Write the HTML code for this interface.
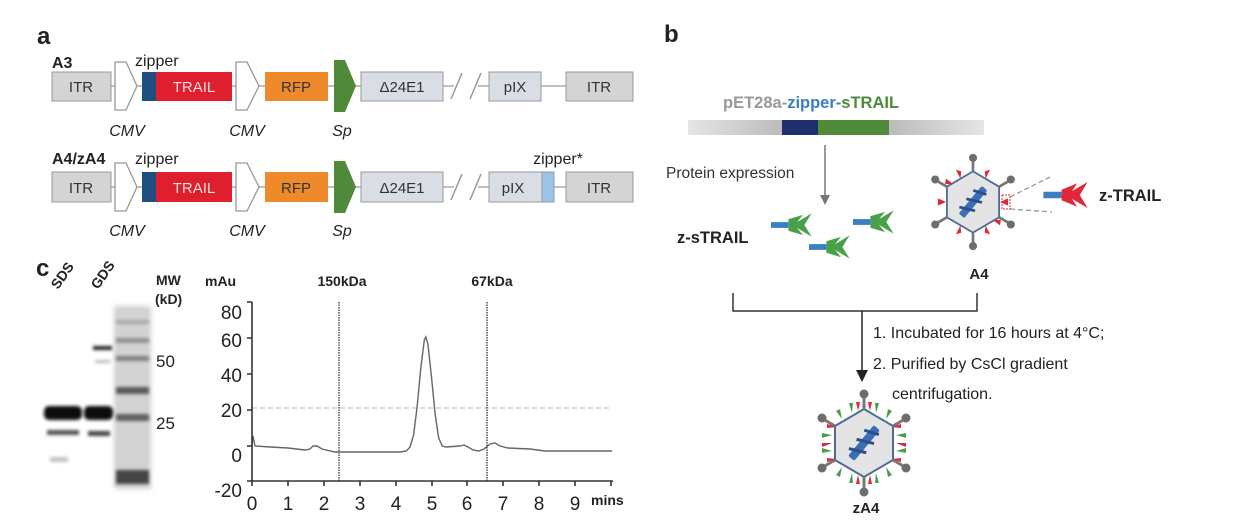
<!DOCTYPE html>
<html><head><meta charset="utf-8"><style>
html,body{margin:0;padding:0;background:#fff;}
svg{display:block;font-family:"Liberation Sans",Arial,sans-serif;}
</style></head><body>
<svg width="1244" height="530" viewBox="0 0 1244 530" xmlns="http://www.w3.org/2000/svg">
<defs>
<filter id="bl" x="-20%" y="-50%" width="140%" height="200%"><feGaussianBlur stdDeviation="1.6"/></filter>
<filter id="bl2" x="-20%" y="-20%" width="140%" height="140%"><feGaussianBlur stdDeviation="2.5"/></filter>
<linearGradient id="bar" x1="0" x2="1"><stop offset="0" stop-color="#e6e6e6"/><stop offset="0.3" stop-color="#bdbdbd"/><stop offset="0.7" stop-color="#bdbdbd"/><stop offset="1" stop-color="#e6e6e6"/></linearGradient>
<g id="fanG"><rect x="-20" y="-2" width="12" height="4" fill="#3a7fc4"/><path d="M-8,-4 L2,-7 L-2,-2 L8,-8 L3,0 L8,8 L-2,2 L2,7 L-8,4 Z" fill="#4aa04a"/></g>
<g id="fanR"><rect x="-22" y="-2.5" width="14" height="5" fill="#3a7fc4"/><path d="M-8,-4 L4,-9 L0,-3 L12,-10 L6,0 L12,10 L0,3 L4,9 L-8,4 Z" fill="#e0283a"/></g>
<g id="core">
<polygon points="0,-34 29,-17 29,17 0,34 -29,17 -29,-17" fill="#e4e4e4" stroke="#4b6d97" stroke-width="2"/>
<g stroke="#777" stroke-width="3">
<line x1="0" y1="-34" x2="0" y2="-48"/><line x1="29" y1="-17" x2="41" y2="-24"/><line x1="29" y1="17" x2="41" y2="24"/>
<line x1="0" y1="34" x2="0" y2="48"/><line x1="-29" y1="17" x2="-41" y2="24"/><line x1="-29" y1="-17" x2="-41" y2="-24"/>
</g>
<g fill="#6d6d6d"><circle cx="0" cy="-49" r="4.5"/><circle cx="42" cy="-25" r="4.5"/><circle cx="42" cy="25" r="4.5"/><circle cx="0" cy="49" r="4.5"/><circle cx="-42" cy="25" r="4.5"/><circle cx="-42" cy="-25" r="4.5"/></g>
<g transform="rotate(-50)" fill="#3a6fb5"><rect x="-20" y="-4" width="40" height="8" rx="2"/><path d="M-14,-8 L-6,8 M-2,-8 L6,8 M10,-8 L16,6" stroke="#2a4f8a" stroke-width="3"/></g>
</g>
</defs>
<rect width="1244" height="530" fill="#fff"/>

<!-- Panel a -->
<text x="37" y="44" font-size="24" font-weight="bold" fill="#222">a</text>
<line x1="52" y1="86" x2="633" y2="86" stroke="#aaa" stroke-width="1.5"/>
<line x1="52" y1="187" x2="633" y2="187" stroke="#aaa" stroke-width="1.5"/>
<rect x="443" y="60" width="46" height="50" fill="#fff"/>
<rect x="443" y="160" width="46" height="50" fill="#fff"/>
<g stroke="#999" stroke-width="1.5"><line x1="451" y1="99" x2="462" y2="73"/><line x1="470" y1="99" x2="481" y2="73"/>
<line x1="451" y1="200" x2="462" y2="174"/><line x1="470" y1="200" x2="481" y2="174"/></g>
<line x1="443" y1="86" x2="454" y2="86" stroke="#aaa" stroke-width="1.5"/><line x1="478" y1="86" x2="489" y2="86" stroke="#aaa" stroke-width="1.5"/>
<line x1="443" y1="187" x2="454" y2="187" stroke="#aaa" stroke-width="1.5"/><line x1="478" y1="187" x2="489" y2="187" stroke="#aaa" stroke-width="1.5"/>

<g font-size="15" text-anchor="middle">
<rect x="52" y="72" width="59" height="29" fill="#d4d4d4" stroke="#999"/><text x="81" y="92" fill="#333">ITR</text>
<polygon points="115,62 126,62 137,86 126,110 115,110 115,62" fill="#fff" stroke="#999" stroke-width="1.3"/>
<rect x="142" y="72" width="14" height="29" fill="#1f4e80"/>
<rect x="156" y="72" width="76" height="29" fill="#e01f2e"/><text x="194" y="92" fill="#fdd">TRAIL</text>
<polygon points="236,62 247,62 259,86 247,110 236,110" fill="#fff" stroke="#999" stroke-width="1.3"/>
<rect x="265" y="72" width="63" height="29" fill="#ef8a2a"/><text x="296" y="92" fill="#333">RFP</text>
<polygon points="334,60 345,60 356,86 345,112 334,112" fill="#4f8a3a"/>
<rect x="361" y="72" width="82" height="29" fill="#d8dde6" stroke="#999"/><text x="402" y="92" fill="#333">Δ24E1</text>
<rect x="489" y="72" width="52" height="29" fill="#d8dde6" stroke="#999"/><text x="515" y="92" fill="#333">pIX</text>
<rect x="566" y="72" width="67" height="29" fill="#d4d4d4" stroke="#999"/><text x="599" y="92" fill="#333">ITR</text>
<rect x="52" y="172" width="59" height="30" fill="#d4d4d4" stroke="#999"/><text x="81" y="193" fill="#333">ITR</text>
<polygon points="115,163 126,163 137,187 126,211 115,211" fill="#fff" stroke="#999" stroke-width="1.3"/>
<rect x="142" y="172" width="14" height="30" fill="#1f4e80"/>
<rect x="156" y="172" width="76" height="30" fill="#e01f2e"/><text x="194" y="193" fill="#fdd">TRAIL</text>
<polygon points="236,163 247,163 259,187 247,211 236,211" fill="#fff" stroke="#999" stroke-width="1.3"/>
<rect x="265" y="172" width="63" height="30" fill="#ef8a2a"/><text x="296" y="193" fill="#333">RFP</text>
<polygon points="334,161 345,161 356,187 345,213 334,213" fill="#4f8a3a"/>
<rect x="361" y="172" width="82" height="30" fill="#d8dde6" stroke="#999"/><text x="402" y="193" fill="#333">Δ24E1</text>
<rect x="489" y="172" width="53" height="30" fill="#d8dde6" stroke="#999"/><text x="513" y="193" fill="#333">pIX</text>
<rect x="542" y="172" width="12" height="30" fill="#9cc4ea" stroke="#999"/>
<rect x="566" y="172" width="67" height="30" fill="#d4d4d4" stroke="#999"/><text x="599" y="193" fill="#333">ITR</text>
</g>
<g font-size="16" fill="#222">
<text x="52" y="68" font-weight="bold">A3</text>
<text x="135" y="66">zipper</text>
<text x="52" y="164" font-weight="bold">A4/zA4</text>
<text x="135" y="164">zipper</text>
<text x="558" y="164" text-anchor="middle">zipper*</text>
<g font-style="italic" text-anchor="middle">
<text x="127" y="136">CMV</text><text x="247" y="136">CMV</text><text x="342" y="136">Sp</text>
<text x="127" y="236">CMV</text><text x="247" y="236">CMV</text><text x="342" y="236">Sp</text>
</g></g>

<!-- Panel c gel -->
<text x="36" y="276" font-size="24" font-weight="bold" fill="#222">c</text>
<g font-size="14" font-weight="bold" fill="#222">
<text transform="translate(58,290) rotate(-55)">SDS</text>
<text transform="translate(98,290) rotate(-55)">GDS</text>
<text x="156" y="285">MW</text><text x="155" y="304">(kD)</text>
</g>
<text x="156" y="367" font-size="17" fill="#222">50</text>
<text x="156" y="429" font-size="17" fill="#222">25</text>
<rect x="114" y="306" width="37" height="183" fill="#d2d2d2" filter="url(#bl2)"/>
<g filter="url(#bl)">
<rect x="44" y="406" width="38" height="14" rx="5" fill="#111"/>
<rect x="84" y="406" width="29" height="14" rx="5" fill="#111"/>
<rect x="47" y="430" width="32" height="5" fill="#555"/>
<rect x="88" y="431" width="22" height="5" fill="#444"/>
<rect x="93" y="346" width="19" height="4" fill="#222"/>
<rect x="95" y="360" width="15" height="3" fill="#bbb"/>
<rect x="50" y="457" width="18" height="5" fill="#c4c4c4"/>
<rect x="116" y="320" width="33" height="4" fill="#a8a8a8"/>
<rect x="116" y="338" width="33" height="5" fill="#909090"/>
<rect x="116" y="356" width="33" height="5" fill="#808080"/>
<rect x="116" y="387" width="33" height="7" fill="#5a5a5a"/>
<rect x="116" y="414" width="33" height="7" fill="#606060"/>
<rect x="116" y="470" width="33" height="14" fill="#444"/>
</g>

<!-- Chart -->
<g font-size="14" font-weight="bold" fill="#222">
<text x="205" y="286">mAu</text>
<text x="342" y="286" text-anchor="middle">150kDa</text>
<text x="492" y="286" text-anchor="middle">67kDa</text>
<text x="591" y="505">mins</text>
</g>
<line x1="252" y1="408" x2="612" y2="408" stroke="#bbb" stroke-width="1" stroke-dasharray="5,3"/>
<line x1="339" y1="302" x2="339" y2="481" stroke="#333" stroke-width="1.3" stroke-dasharray="1.5,1"/>
<line x1="487" y1="302" x2="487" y2="481" stroke="#333" stroke-width="1.3" stroke-dasharray="1.5,1"/>
<polyline fill="none" stroke="#666" stroke-width="1.4" points="252,445 253,436 255,446 270,447 288,448 305,450 310,449 313,446 317,446 322,449 335,452 380,452 400,452 406.4,451 410,447 413.6,435 417.1,407 420.7,369 424.3,340 425.8,337 427.9,344 431.5,377 435.1,414 438.7,438 442.3,446 446,447 460,446 464,445 468,447 473,450 479,451 484,449 490,444 495,443 500,446 508,448 530,449 545,451 612,451"/>
<g stroke="#333" stroke-width="1.6" fill="none">
<path d="M252,302 V481 H613"/>
<path d="M247,302 H252 M247,338 H252 M247,374 H252 M247,410 H252 M247,446 H252 M247,481 H252"/>
<path d="M252,481 V486 M288,481 V486 M324,481 V486 M360,481 V486 M396,481 V486 M432,481 V486 M467,481 V486 M503,481 V486 M539,481 V486 M575,481 V486 M611,481 V486"/>
</g>
<g font-size="19" fill="#222" text-anchor="end">
<text x="242" y="319">80</text><text x="242" y="347">60</text><text x="242" y="382">40</text>
<text x="242" y="417">20</text><text x="242" y="462">0</text><text x="242" y="497">-20</text>
</g>
<g font-size="19" fill="#222" text-anchor="middle">
<text x="252" y="510">0</text><text x="288" y="510">1</text><text x="324" y="510">2</text><text x="360" y="510">3</text><text x="396" y="510">4</text>
<text x="432" y="510">5</text><text x="467" y="510">6</text><text x="503" y="510">7</text><text x="539" y="510">8</text><text x="575" y="510">9</text>
</g>

<!-- Panel b -->
<text x="664" y="42" font-size="24" font-weight="bold" fill="#222">b</text>
<text x="723" y="108" font-size="16.5" font-weight="bold"><tspan fill="#999">pET28a-</tspan><tspan fill="#3a7fc4">zipper-</tspan><tspan fill="#4f8a3a">sTRAIL</tspan></text>
<rect x="688" y="120" width="296" height="15" fill="url(#bar)"/>
<rect x="782" y="120" width="36" height="15" fill="#1f2f6e"/>
<rect x="818" y="120" width="71" height="15" fill="#4f8a3a"/>
<line x1="825" y1="145" x2="825" y2="197" stroke="#777" stroke-width="1.5"/>
<polygon points="820,195 830,195 825,205" fill="#777"/>
<text x="666" y="178" font-size="15.5" fill="#333">Protein expression</text>
<text x="677" y="243" font-size="16.5" font-weight="bold" fill="#222">z-sTRAIL</text>
<use href="#fanG" transform="translate(800,225) scale(1.45)"/>
<use href="#fanG" transform="translate(882,222) scale(1.45)"/>
<use href="#fanG" transform="translate(838,247) scale(1.45)"/>

<g transform="translate(973,202) scale(0.9)">
<use href="#core"/>
<g fill="#e0283a"><path d="M-14,-26 l-5,-10 l6,2 z M14,-26 l5,-10 l-6,2 z M-30,0 l-9,-4 l0,8 z M30,0 l9,-4 l0,8 z M-14,26 l-5,10 l6,-2 z M14,26 l5,10 l-6,-2 z M-22,-20 l-8,-6 l-1,6 z M22,20 l8,6 l1,-6 z"/></g>
</g>
<g stroke="#999" stroke-width="1.3" stroke-dasharray="5,3"><line x1="1010" y1="197" x2="1050" y2="177"/><line x1="1010" y1="209" x2="1052" y2="212"/></g>
<rect x="1002" y="195" width="8" height="14" fill="none" stroke="#e0283a" stroke-width="1" stroke-dasharray="2,1"/>
<use href="#fanR" transform="translate(1072,195) scale(1.3)"/>
<text x="1099" y="201" font-size="16.5" font-weight="bold" fill="#222">z-TRAIL</text>
<text x="979" y="279" font-size="15" font-weight="bold" fill="#222" text-anchor="middle">A4</text>

<path d="M733,293 V311 H977 V293" fill="none" stroke="#333" stroke-width="1.5"/>
<line x1="862" y1="311" x2="862" y2="372" stroke="#222" stroke-width="1.5"/>
<polygon points="856,370 868,370 862,382" fill="#222"/>
<g font-size="16" fill="#222">
<text x="873" y="338">1. Incubated for 16 hours at 4°C;</text>
<text x="873" y="369">2. Purified by CsCl gradient</text>
<text x="892" y="399">centrifugation.</text>
</g>
<g transform="translate(864,443)">
<use href="#core"/>
<g>
<path d="M-12,-30 l-3,-10 l4,0 z M12,-30 l3,-10 l-4,0 z M-22,-24 l-6,-8 l4,-2 z M22,-24 l6,-8 l-4,-2 z M-32,-8 l-10,-2 l0,5 z M32,-8 l10,-2 l0,5 z M-32,8 l-10,2 l0,-5 z M32,8 l10,2 l0,-5 z M-12,30 l-3,10 l4,0 z M12,30 l3,10 l-4,0 z M-22,24 l-6,8 l4,2 z M22,24 l6,8 l-4,2 z" fill="#4aa04a"/>
<path d="M-6,-32 l-2,-9 l4,0 z M6,-32 l2,-9 l-4,0 z M-32,0 l-10,0 l0,4 z M32,0 l10,0 l0,4 z M-6,32 l-2,9 l4,0 z M6,32 l2,9 l-4,0 z M-28,-16 l-9,-3 l0,4 z M28,16 l9,3 l0,-4 z M-28,16 l-9,3 l0,-4 z M28,-16 l9,-3 l0,4 z" fill="#e0283a"/>
</g>
</g>
<text x="866" y="513" font-size="15" font-weight="bold" fill="#222" text-anchor="middle">zA4</text>
</svg>
</body></html>
